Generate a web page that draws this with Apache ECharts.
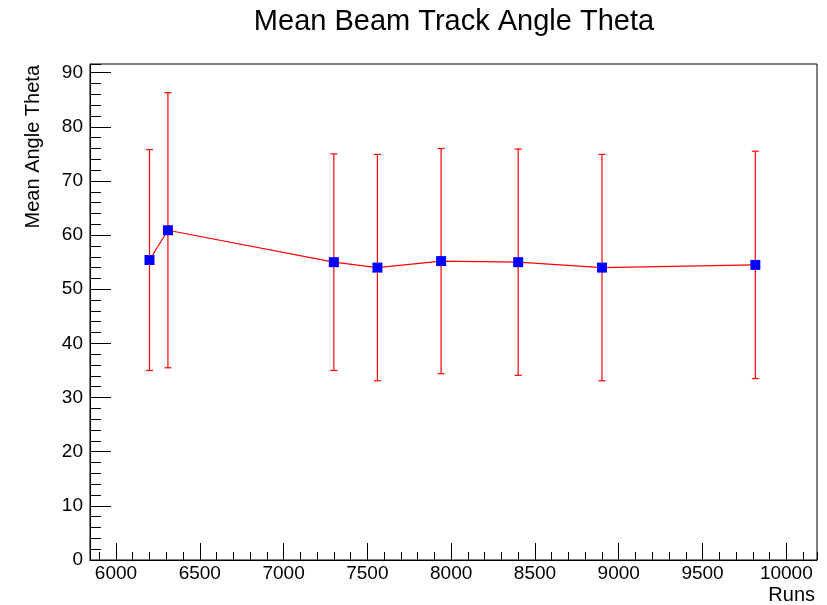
<!DOCTYPE html>
<html>
<head>
<meta charset="utf-8">
<script src="https://cdn.jsdelivr.net/npm/echarts@6/dist/echarts.min.js"></script>
<style>html,body{margin:0;padding:0;background:#fff}#c{width:827px;height:605px}</style>
</head>
<body>
<div id="c"></div>
<script>
const runs = [6200, 6310, 7300, 7560, 7940, 8400, 8900, 9815];
const theta = [55.4, 60.9, 55.0, 54.0, 55.2, 55.0, 54.0, 54.5];
const thetaErr = [20.4, 25.4, 20.0, 20.9, 20.8, 20.9, 20.9, 21.0];
const titleText = 'Mean Beam Track Angle Theta';
const xName = 'Runs';
const yName = 'Mean Angle Theta';
const xRange = [5845, 10183];
const yRange = [0, 91.6];

const FONT = '"Liberation Sans", Arial, Helvetica, sans-serif';
const chart = echarts.init(document.getElementById('c'), null, {renderer: 'canvas'});

const pts = runs.map((r, i) => [r, theta[i]]);
const errData = runs.map((r, i) => [r, theta[i] - thetaErr[i], theta[i] + thetaErr[i]]);

const tickLbl = {fontFamily: FONT, fontSize: 19, color: '#000'};

chart.setOption({
  animation: false,
  backgroundColor: '#fff',
  grid: {left: 90, right: 10, top: 64, bottom: 45, show: true, borderColor: '#000', borderWidth: 1, containLabel: false},
  xAxis: [
    {type: 'value', min: xRange[0], max: xRange[1], splitNumber: 8, position: 'bottom',
     axisLine: {show: true, lineStyle: {color: '#000', width: 1}},
     axisTick: {show: true, inside: true, length: 17, lineStyle: {color: '#000'}},
     axisLabel: Object.assign({margin: 4, showMinLabel: false, showMaxLabel: false,
       formatter: v => (v % 500 === 0 ? String(v) : '')}, tickLbl),
     splitLine: {show: false}},
    {type: 'value', min: xRange[0], max: xRange[1], splitNumber: 43, position: 'bottom',
     axisLine: {show: false},
     axisTick: {show: true, inside: true, length: 8, lineStyle: {color: '#000'}},
     axisLabel: {show: false}, splitLine: {show: false}}
  ],
  yAxis: [
    {type: 'value', min: yRange[0], max: yRange[1], interval: 10, position: 'left',
     axisLine: {show: true, lineStyle: {color: '#000', width: 1}},
     axisTick: {show: true, inside: true, length: 21, lineStyle: {color: '#000'}},
     axisLabel: Object.assign({margin: 7, showMaxLabel: false,
       formatter: v => (v % 10 === 0 ? String(v) : '')}, tickLbl),
     splitLine: {show: false}},
    {type: 'value', min: yRange[0], max: yRange[1], interval: 2, position: 'left',
     axisLine: {show: false},
     axisTick: {show: true, inside: true, length: 11, lineStyle: {color: '#000'}},
     axisLabel: {show: false}, splitLine: {show: false}}
  ],
  series: [
    {type: 'custom', xAxisIndex: 0, yAxisIndex: 0, z: 2,
     data: errData,
     encode: {x: 0, y: [1, 2]},
     renderItem: function (params, api) {
       const x = api.value(0);
       const lo = api.coord([x, api.value(1)]);
       const hi = api.coord([x, api.value(2)]);
       const cw = 3.5;
       const st = {stroke: '#ff0000', lineWidth: 1.2};
       return {type: 'group', children: [
         {type: 'line', shape: {x1: lo[0], y1: lo[1], x2: hi[0], y2: hi[1]}, style: st},
         {type: 'line', shape: {x1: lo[0] - cw, y1: lo[1], x2: lo[0] + cw, y2: lo[1]}, style: st},
         {type: 'line', shape: {x1: hi[0] - cw, y1: hi[1], x2: hi[0] + cw, y2: hi[1]}, style: st}
       ]};
     }},
    {type: 'line', xAxisIndex: 0, yAxisIndex: 0, z: 3, data: pts,
     symbol: 'rect', symbolSize: 10, showAllSymbol: true,
     lineStyle: {color: '#ff0000', width: 1.2},
     itemStyle: {color: '#0000ff', borderWidth: 0}}
  ],
  graphic: [
    {type: 'text', x: 454, y: 22, style: {text: titleText, font: '29px ' + FONT, fill: '#000', textAlign: 'center', textVerticalAlign: 'middle'}},
    {type: 'text', x: 815, y: 595, style: {text: xName, font: '20px ' + FONT, fill: '#000', textAlign: 'right', textVerticalAlign: 'middle'}},
    {type: 'text', x: 33, y: 65, rotation: Math.PI / 2, style: {text: yName, font: '20px ' + FONT, fill: '#000', textAlign: 'right', textVerticalAlign: 'middle'}}
  ]
});
</script>
</body>
</html>
